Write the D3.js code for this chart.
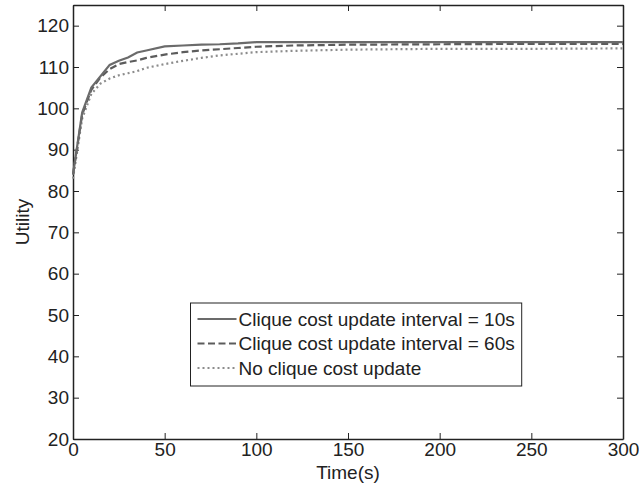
<!DOCTYPE html>
<html>
<head>
<meta charset="utf-8">
<script src="https://cdn.jsdelivr.net/npm/d3@7"></script>
<style>
  body { margin: 0; background: #fff; }
  text { font-family: "Liberation Sans", Arial, sans-serif; fill: #222; }
</style>
</head>
<body>
<div id="chart"></div>
<script>
// time points (s) and utility per series
const tSolid = [0, 5, 10, 20, 25, 30, 35, 40, 50, 60, 70, 80, 90, 100, 150, 200, 250, 300];
const uSolid = [84, 99, 105, 110.5, 111.5, 112.3, 113.5, 114, 115, 115.2, 115.4, 115.5, 115.7, 116, 116, 116, 116, 116];

const tDashed = [0, 5, 10, 15, 20, 25, 30, 35, 40, 50, 60, 70, 80, 90, 100, 120, 150, 200, 250, 300];
const uDashed = [84, 98.5, 104.5, 107.5, 109.5, 110.7, 111.2, 111.6, 112.2, 113, 113.6, 114, 114.3, 114.6, 114.9, 115.2, 115.4, 115.5, 115.6, 115.6];

const tDotted = [0, 5, 10, 15, 20, 25, 30, 35, 40, 50, 60, 70, 80, 90, 100, 120, 150, 200, 250, 300];
const uDotted = [83, 97.5, 103.5, 106, 107.2, 108, 108.5, 109, 109.8, 110.7, 111.5, 112.2, 112.8, 113.2, 113.6, 113.9, 114.2, 114.4, 114.4, 114.5];

const legendLabels = ['Clique cost update interval = 10s', 'Clique cost update interval = 60s', 'No clique cost update'];
const xTicks = [0, 50, 100, 150, 200, 250, 300];
const yTicks = [20, 30, 40, 50, 60, 70, 80, 90, 100, 110, 120];

const width = 639, height = 489;
const margin = {left: 73, right: 16, top: 5, bottom: 50};
const iw = width - margin.left - margin.right;
const ih = height - margin.top - margin.bottom;
const fs = 19;

const svg = d3.select('#chart').append('svg')
    .attr('width', width)
    .attr('height', height);

const g = svg.append('g').attr('transform', `translate(${margin.left},${margin.top})`);

const x = d3.scaleLinear().domain([0, 300]).range([0, iw]);
const y = d3.scaleLinear().domain([20, 125]).range([ih, 0]);

// axes with inward ticks on all four sides
const tl = 6;
g.append('g').attr('transform', `translate(0,${ih})`)
    .call(d3.axisBottom(x).tickValues(xTicks).tickSizeInner(-tl).tickSizeOuter(0).tickPadding(3))
    .call(a => a.selectAll('text').attr('font-size', fs).attr('dy', '0.74em'));
g.append('g')
    .call(d3.axisTop(x).tickValues(xTicks).tickSizeInner(-tl).tickSizeOuter(0).tickFormat(''));
g.append('g')
    .call(d3.axisLeft(y).tickValues(yTicks).tickSizeInner(-tl).tickSizeOuter(0).tickPadding(4))
    .call(a => a.selectAll('text').attr('font-size', fs));
g.append('g').attr('transform', `translate(${iw},0)`)
    .call(d3.axisRight(y).tickValues(yTicks).tickSizeInner(-tl).tickSizeOuter(0).tickFormat(''));

g.selectAll('.domain').attr('stroke', '#222').attr('stroke-width', 1.5);
g.selectAll('.tick line').attr('stroke', '#222');
g.selectAll('.tick text').style('fill', '#222');

const line = d3.line().x(d => x(d[0])).y(d => y(d[1]));

const series = [
    {t: tSolid, u: uSolid, color: '#6b6b6b', dash: null},
    {t: tDashed, u: uDashed, color: '#5c5c5c', dash: '7,3.5'},
    {t: tDotted, u: uDotted, color: '#8c8c8c', dash: '2,3'}
];

series.slice().reverse().forEach(s => {
    g.append('path')
        .datum(s.t.map((t, i) => [t, s.u[i]]))
        .attr('d', line)
        .attr('fill', 'none')
        .attr('stroke', s.color)
        .attr('stroke-width', 2.2)
        .attr('stroke-dasharray', s.dash);
});

// axis titles
svg.append('text')
    .attr('x', margin.left + iw / 2)
    .attr('y', 479)
    .attr('text-anchor', 'middle')
    .attr('font-size', fs)
    .text('Time(s)');
svg.append('text')
    .attr('transform', `translate(29,${margin.top + ih / 2}) rotate(-90)`)
    .attr('text-anchor', 'middle')
    .attr('font-size', fs)
    .text('Utility');

// legend
const lg = svg.append('g').attr('transform', 'translate(190.5,303)');
const box = lg.append('rect')
    .attr('height', 83)
    .attr('fill', '#fff').attr('stroke', '#222').attr('stroke-width', 1);
let maxW = 0;
series.forEach((s, i) => {
    const yy = 16 + i * 24.5;
    lg.append('line')
        .attr('x1', 7).attr('x2', 46).attr('y1', yy).attr('y2', yy)
        .attr('stroke', s.color).attr('stroke-width', 2.2)
        .attr('stroke-dasharray', s.dash);
    const t = lg.append('text')
        .attr('x', 48).attr('y', yy)
        .attr('dy', '0.35em')
        .attr('font-size', fs)
        .text(legendLabels[i]);
    maxW = Math.max(maxW, t.node().getComputedTextLength());
});
box.attr('width', 48 + maxW + 7);
</script>
</body>
</html>
